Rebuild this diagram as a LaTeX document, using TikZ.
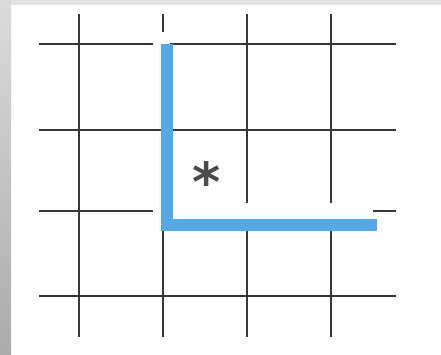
\documentclass[tikz,border=0pt]{standalone}
\usepackage{fontspec}
\usepackage{tikz}
\usetikzlibrary{calc}

\newfontfamily\starfont{DejaVu Sans}

\definecolor{wallblue}{RGB}{84,168,228}
\definecolor{inkgray}{RGB}{55,55,55}

\begin{document}
\begin{tikzpicture}[
    x=0.03cm,
    y=-0.03cm,
    gridline/.style={draw=inkgray, line width=1.3pt},
    wall/.style={draw=wallblue, line width=10.5pt, line cap=butt, line join=miter},
    mark star/.style={text=inkgray!90, inner sep=0pt, anchor=base, font=\starfont\bfseries\fontsize{46}{46}\selectfont}
]

% Frame
\fill[white] (0,0) rectangle (441,354);
\useasboundingbox (0,0) rectangle (441,354);
\fill[gray!23] (0,0) rectangle (441,5);
\shade[top color=gray!28, bottom color=gray!66] (0,0) rectangle (11,354);

% Grid
\draw[gridline] (79,14) -- (79,337);
\draw[gridline] (163,14) -- (163,32);
\draw[gridline] (163,220) -- (163,337);
\foreach \x in {247,331} {
    \draw[gridline] (\x,14) -- (\x,203);
    \draw[gridline] (\x,220) -- (\x,337);
}
\draw[gridline] (39,44) -- (153,44);
\draw[gridline] (170,44) -- (396,44);
\draw[gridline] (39,130) -- (396,130);
\draw[gridline] (39,211) -- (153,211);
\draw[gridline] (373,211) -- (396,211);
\draw[gridline] (39,296) -- (396,296);

% Wall
\coordinate (top) at (167,44);
\coordinate (corner) at (167,225);
\coordinate (end) at (377,225);
\draw[wall] (top) -- (corner) -- (end);

% Cell mark
\node[mark star] (star) at (207,201) {*};

\end{tikzpicture}
\end{document}
